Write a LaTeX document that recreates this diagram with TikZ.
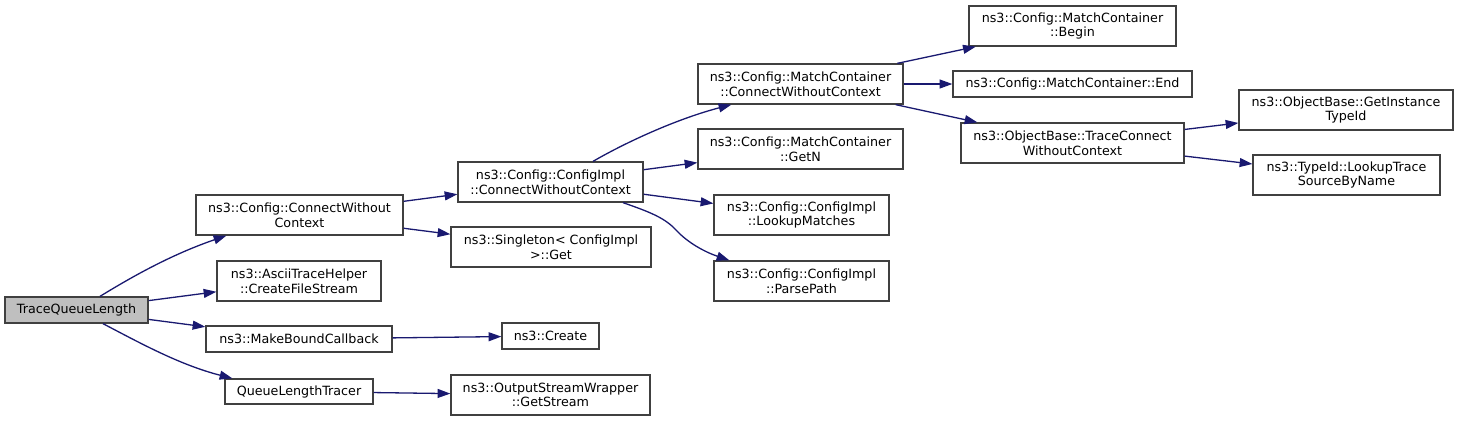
\documentclass[tikz,border=0pt]{standalone}
\usepackage{fontspec}
\setmainfont{DejaVu Sans}
\usetikzlibrary{arrows.meta}
\definecolor{edgec}{HTML}{191970}
\definecolor{boxc}{HTML}{404040}
\definecolor{rootc}{HTML}{BFBFBF}
\begin{document}
\begin{tikzpicture}[x=1pt,y=-1pt,
  font=\fontsize{12.7}{14.7}\selectfont,
  box/.style={draw=boxc, line width=1.3pt, fill=white, inner sep=0pt, align=center, text=black},
  edge/.style={draw=edgec, line width=1.3pt, -{Triangle[length=12.7pt,width=8.9pt]}, fill=none},
  ]
\useasboundingbox[fill=white] (0,0) rectangle (1459,421);
% column 0
\node[box, fill=rootc, minimum width=143pt, minimum height=26pt] (A) at (76.5,310) {TraceQueueLength};
% column 1
\node[box, minimum width=207pt, minimum height=40pt] (B) at (299.5,215) {ns3::Config::ConnectWithout\\Context};
\node[box, minimum width=164pt, minimum height=40pt] (C) at (299,281) {ns3::AsciiTraceHelper\\::CreateFileStream};
\node[box, minimum width=186pt, minimum height=26pt] (D) at (299,339) {ns3::MakeBoundCallback};
\node[box, minimum width=148pt, minimum height=25pt] (E) at (299,391.5) {QueueLengthTracer};
% column 2
\node[box, minimum width=185pt, minimum height=40pt] (F) at (550.5,182) {ns3::Config::ConfigImpl\\::ConnectWithoutContext};
\node[box, minimum width=200pt, minimum height=40pt] (G) at (551,247) {ns3::Singleton< ConfigImpl\\ >::Get};
\node[box, minimum width=97pt, minimum height=26pt] (H) at (550.5,336) {ns3::Create};
\node[box, minimum width=199pt, minimum height=40pt] (I) at (550.5,395) {ns3::OutputStreamWrapper\\::GetStream};
% column 3
\node[box, minimum width=205pt, minimum height=40pt] (J) at (800.5,84) {ns3::Config::MatchContainer\\::ConnectWithoutContext};
\node[box, minimum width=205pt, minimum height=40pt] (K) at (800.5,149) {ns3::Config::MatchContainer\\::GetN};
\node[box, minimum width=175pt, minimum height=40pt] (L) at (801.5,215) {ns3::Config::ConfigImpl\\::LookupMatches};
\node[box, minimum width=175pt, minimum height=40pt] (M) at (801.5,281) {ns3::Config::ConfigImpl\\::ParsePath};
% column 4
\node[box, minimum width=207pt, minimum height=40pt] (N) at (1072.5,26) {ns3::Config::MatchContainer\\::Begin};
\node[box, minimum width=239pt, minimum height=26pt] (O) at (1072.5,84) {ns3::Config::MatchContainer::End};
\node[box, minimum width=223pt, minimum height=40pt] (P) at (1072.5,143) {ns3::ObjectBase::TraceConnect\\WithoutContext};
% column 5
\node[box, minimum width=214pt, minimum height=40pt] (Q) at (1346,110) {ns3::ObjectBase::GetInstance\\TypeId};
\node[box, minimum width=187pt, minimum height=40pt] (R) at (1346.5,175) {ns3::TypeId::LookupTrace\\SourceByName};
% edges
\draw[edge] ([xshift=23.5pt]A.north) .. controls (130,278) and (170,255) .. ([xshift=31pt]B.south west);
\draw[edge] (A) -- (C);
\draw[edge] (A) -- (D);
\draw[edge] ([xshift=26.5pt]A.south) .. controls (140,343) and (180,365) .. ([xshift=8pt]E.north west);
\draw[edge] (B) -- (F);
\draw[edge] (B) -- (G);
\draw[edge] (D) -- (H);
\draw[edge] (E) -- (I);
\draw[edge] ([xshift=42.5pt]F.north) .. controls (630,140) and (680,118) .. ([xshift=34pt]J.south west);
\draw[edge] (F) -- (K);
\draw[edge] (F) -- (L);
\draw[edge] ([xshift=72.5pt]F.south) .. controls (650,212) and (665,218) .. (676,230) .. controls (688,243) and (705,252) .. ([xshift=16pt]M.north west);
\draw[edge] (J) -- (N);
\draw[edge] (J) -- (O);
\draw[edge] (J) -- (P);
\draw[edge] (P) -- (Q);
\draw[edge] (P) -- (R);
\end{tikzpicture}
\end{document}
